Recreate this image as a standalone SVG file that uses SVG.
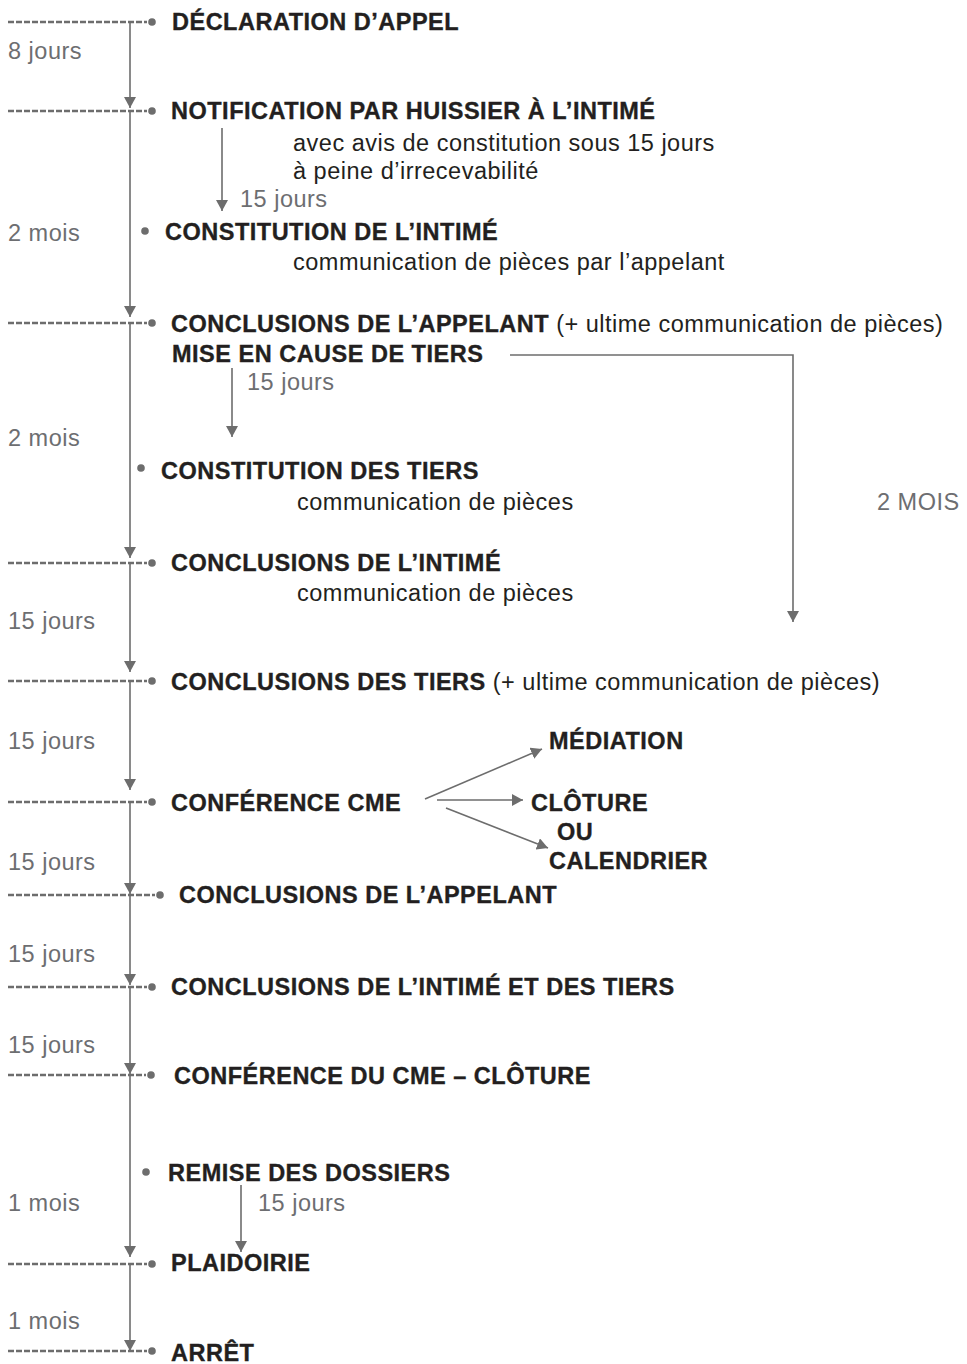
<svg xmlns="http://www.w3.org/2000/svg" width="967" height="1364" viewBox="0 0 967 1364">
<style>
text{font-family:"Liberation Sans",Arial,sans-serif;font-size:23.5px}
.b{font-weight:bold;fill:#231f20;letter-spacing:0.5px;stroke:#231f20;stroke-width:0.35px}
.r{fill:#231f20;letter-spacing:0.5px;font-weight:normal;stroke:none}
.g{fill:#6d6e71;letter-spacing:0.5px}
.ln{stroke:#6d6d6d;stroke-width:1.6;fill:none}
.dash{stroke:#6d6d6d;stroke-width:2.6;stroke-dasharray:6 2;fill:none}
.dot{fill:#6d6d6d}
</style>
<defs>
<marker id="ah" viewBox="0 0 11 12" refX="11" refY="6" markerWidth="11" markerHeight="12" markerUnits="userSpaceOnUse" orient="auto">
<path d="M0,0 L11,6 L0,12 z" fill="#6d6d6d"/>
</marker>
</defs>
<rect width="967" height="1364" fill="#ffffff"/>
<g id="connectors">
<line class="ln" x1="130" y1="22" x2="130" y2="108" marker-end="url(#ah)"/>
<line class="ln" x1="130" y1="111" x2="130" y2="317" marker-end="url(#ah)"/>
<line class="ln" x1="130" y1="323" x2="130" y2="558" marker-end="url(#ah)"/>
<line class="ln" x1="130" y1="563" x2="130" y2="672" marker-end="url(#ah)"/>
<line class="ln" x1="130" y1="681" x2="130" y2="790" marker-end="url(#ah)"/>
<line class="ln" x1="130" y1="802" x2="130" y2="894" marker-end="url(#ah)"/>
<line class="ln" x1="130" y1="895" x2="130" y2="985" marker-end="url(#ah)"/>
<line class="ln" x1="130" y1="987" x2="130" y2="1074" marker-end="url(#ah)"/>
<line class="ln" x1="130" y1="1075" x2="130" y2="1257" marker-end="url(#ah)"/>
<line class="ln" x1="130" y1="1264" x2="130" y2="1351" marker-end="url(#ah)"/>
<line class="ln" x1="222" y1="128" x2="222" y2="211" marker-end="url(#ah)"/>
<line class="ln" x1="232" y1="368" x2="232" y2="437" marker-end="url(#ah)"/>
<line class="ln" x1="241" y1="1185" x2="241" y2="1252" marker-end="url(#ah)"/>
<polyline class="ln" points="510,355 793,355 793,622" marker-end="url(#ah)"/>
<line class="ln" x1="425" y1="799" x2="542" y2="749" marker-end="url(#ah)"/>
<line class="ln" x1="437" y1="800" x2="523" y2="800" marker-end="url(#ah)"/>
<line class="ln" x1="446" y1="808" x2="548" y2="848" marker-end="url(#ah)"/>
<g id="dashes">
<line class="dash" x1="8" y1="22" x2="147" y2="22"/>
<line class="dash" x1="8" y1="111" x2="147" y2="111"/>
<line class="dash" x1="8" y1="323" x2="147" y2="323"/>
<line class="dash" x1="8" y1="563" x2="147" y2="563"/>
<line class="dash" x1="8" y1="681" x2="147" y2="681"/>
<line class="dash" x1="8" y1="802" x2="147" y2="802"/>
<line class="dash" x1="8" y1="895" x2="155" y2="895"/>
<line class="dash" x1="8" y1="987" x2="147" y2="987"/>
<line class="dash" x1="8" y1="1075" x2="146" y2="1075"/>
<line class="dash" x1="8" y1="1264" x2="147" y2="1264"/>
<line class="dash" x1="8" y1="1351" x2="147" y2="1351"/>
</g>
</g>
<g id="durations">
<text class="g" x="8" y="59">8 jours</text>
<text class="g" x="240" y="207">15 jours</text>
<text class="g" x="8" y="241">2 mois</text>
<text class="g" x="247" y="390">15 jours</text>
<text class="g" x="8" y="446">2 mois</text>
<text class="g" x="877" y="510">2 MOIS</text>
<text class="g" x="8" y="629">15 jours</text>
<text class="g" x="8" y="749">15 jours</text>
<text class="g" x="8" y="870">15 jours</text>
<text class="g" x="8" y="962">15 jours</text>
<text class="g" x="8" y="1053">15 jours</text>
<text class="g" x="8" y="1211">1 mois</text>
<text class="g" x="258" y="1211">15 jours</text>
<text class="g" x="8" y="1329">1 mois</text>
</g>
<g id="n-declaration"><circle class="dot" cx="152" cy="22" r="3.8"/><text class="b" x="172" y="30">DÉCLARATION D’APPEL</text></g>
<g id="n-notification"><circle class="dot" cx="152" cy="111" r="3.8"/><text class="b" x="171" y="119">NOTIFICATION PAR HUISSIER À L’INTIMÉ</text>
<text class="r" x="293" y="151">avec avis de constitution sous 15 jours</text>
<text class="r" x="293" y="179">à peine d’irrecevabilité</text></g>
<g id="n-constitution-intime"><circle class="dot" cx="145" cy="231" r="3.8"/><text class="b" x="165" y="240">CONSTITUTION DE L’INTIMÉ</text>
<text class="r" x="293" y="270">communication de pièces par l’appelant</text></g>
<g id="n-conclusions-appelant"><circle class="dot" cx="152" cy="323" r="3.8"/><text class="b" x="171" y="332">CONCLUSIONS DE L’APPELANT <tspan class="r">(+ ultime communication de pièces)</tspan></text></g>
<g id="n-mise-en-cause"><text class="b" x="172" y="362">MISE EN CAUSE DE TIERS</text></g>
<g id="n-constitution-tiers"><circle class="dot" cx="141" cy="468" r="3.8"/><text class="b" x="161" y="479">CONSTITUTION DES TIERS</text>
<text class="r" x="297" y="510">communication de pièces</text></g>
<g id="n-conclusions-intime"><circle class="dot" cx="152" cy="563" r="3.8"/><text class="b" x="171" y="571">CONCLUSIONS DE L’INTIMÉ</text>
<text class="r" x="297" y="601">communication de pièces</text></g>
<g id="n-conclusions-tiers"><circle class="dot" cx="152" cy="681" r="3.8"/><text class="b" x="171" y="690">CONCLUSIONS DES TIERS <tspan class="r">(+ ultime communication de pièces)</tspan></text></g>
<g id="n-conference-cme"><circle class="dot" cx="152" cy="802" r="3.8"/><text class="b" x="171" y="811">CONFÉRENCE CME</text></g>
<g id="n-mediation"><text class="b" x="549" y="749">MÉDIATION</text></g>
<g id="n-cloture-calendrier"><text class="b" x="531" y="811">CLÔTURE</text><text class="b" x="557" y="840">OU</text><text class="b" x="549" y="869">CALENDRIER</text></g>
<g id="n-conclusions-appelant-2"><circle class="dot" cx="160" cy="895" r="3.8"/><text class="b" x="179" y="903">CONCLUSIONS DE L’APPELANT</text></g>
<g id="n-conclusions-intime-tiers"><circle class="dot" cx="152" cy="987" r="3.8"/><text class="b" x="171" y="995">CONCLUSIONS DE L’INTIMÉ ET DES TIERS</text></g>
<g id="n-conference-cloture"><circle class="dot" cx="151" cy="1075" r="3.8"/><text class="b" x="174" y="1084">CONFÉRENCE DU CME – CLÔTURE</text></g>
<g id="n-remise"><circle class="dot" cx="146" cy="1172" r="3.8"/><text class="b" x="168" y="1181">REMISE DES DOSSIERS</text></g>
<g id="n-plaidoirie"><circle class="dot" cx="152" cy="1264" r="3.8"/><text class="b" x="171" y="1271">PLAIDOIRIE</text></g>
<g id="n-arret"><circle class="dot" cx="152" cy="1351" r="3.8"/><text class="b" x="171" y="1361">ARRÊT</text></g>
</svg>
